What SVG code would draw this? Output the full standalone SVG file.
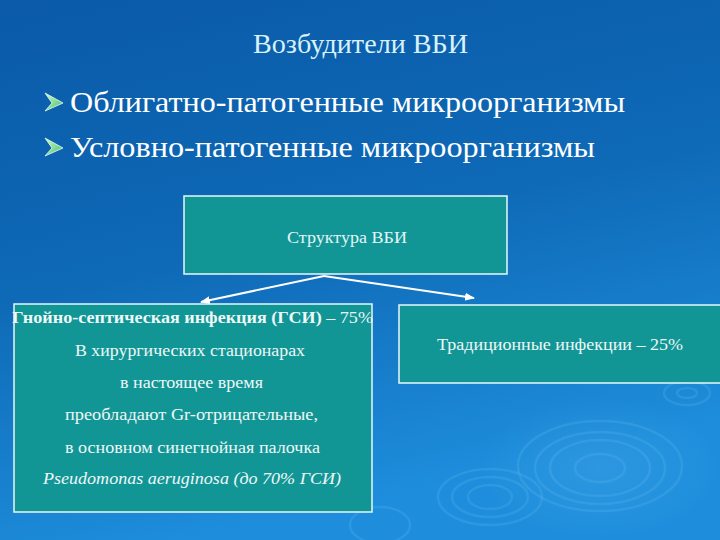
<svg xmlns="http://www.w3.org/2000/svg" width="720" height="540" viewBox="0 0 720 540">
<defs>
<linearGradient id="bg" x1="0" y1="0" x2="0.3" y2="1">
<stop offset="0" stop-color="#0a5aa8"/>
<stop offset="0.5" stop-color="#0e69b6"/>
<stop offset="1" stop-color="#1e8edc"/>
</linearGradient>
<radialGradient id="rip" cx="0.5" cy="0.5" r="0.5">
<stop offset="0" stop-color="#4aaae8" stop-opacity="0.35"/>
<stop offset="1" stop-color="#4aaae8" stop-opacity="0"/>
</radialGradient>
<linearGradient id="bul" x1="0" y1="0" x2="1" y2="1">
<stop offset="0" stop-color="#d8f8c0"/>
<stop offset="1" stop-color="#3cc070"/>
</linearGradient>
<marker id="ah" markerWidth="10" markerHeight="8" refX="9" refY="4" orient="auto" markerUnits="userSpaceOnUse">
<path d="M0,0 L10,4 L0,8 Z" fill="#ffffff"/>
</marker>
<style>
.box{fill:#129595;stroke:#e8f8f8;stroke-width:1.5}
.conn{stroke:#ffffff;stroke-width:2;fill:none;marker-end:url(#ah)}
.r{fill:none;stroke:#5cb8f0;stroke-opacity:0.25;stroke-width:2.5}
.bl{fill:url(#bul);stroke:#e0fff0;stroke-width:0.8}
</style>
</defs>
<rect width="720" height="540" fill="url(#bg)"/>
<g id="ripples">
<ellipse cx="600" cy="468" rx="120" ry="70" fill="url(#rip)"/>
<ellipse class="r" cx="600" cy="468" rx="25" ry="14"/>
<ellipse class="r" cx="600" cy="468" rx="50" ry="28"/>
<ellipse class="r" cx="600" cy="468" rx="65" ry="36"/>
<ellipse class="r" cx="600" cy="466" rx="82" ry="45"/>
<ellipse class="r" cx="490" cy="497" rx="22" ry="12"/>
<ellipse class="r" cx="490" cy="497" rx="38" ry="20"/>
<ellipse class="r" cx="490" cy="497" rx="52" ry="28"/>
<ellipse class="r" cx="687" cy="393" rx="10" ry="5"/>
<ellipse class="r" cx="687" cy="393" rx="23" ry="12"/>
<ellipse class="r" cx="380" cy="525" rx="30" ry="18"/>
</g>
<g font-family="Liberation Serif, Times New Roman, serif">
<g id="title">
<text x="253" y="53" font-size="28" fill="#d8f2fa" textLength="215" lengthAdjust="spacingAndGlyphs">Возбудители ВБИ</text>
</g>
<g id="bullets" fill="#ffffff" font-size="30">
<path class="bl" d="M45,93 L63,103 L45,111 L52,103 Z"/>
<text x="70" y="112" textLength="555" lengthAdjust="spacingAndGlyphs">Облигатно-патогенные микроорганизмы</text>
<path class="bl" d="M45,138 L63,148 L45,156 L52,148 Z"/>
<text x="70" y="157" textLength="525" lengthAdjust="spacingAndGlyphs">Условно-патогенные микроорганизмы</text>
</g>
<g id="connectors">
<path class="conn" d="M324,276 L201,302"/>
<path class="conn" d="M324,276 L474,298"/>
</g>
<g id="structure">
<rect class="box" x="184" y="196" width="323" height="78"/>
<text x="287" y="243" font-size="16" fill="#e4f6f6" textLength="120" lengthAdjust="spacingAndGlyphs">Структура ВБИ</text>
</g>
<g id="gsi" fill="#eef8f8" font-size="16">
<rect class="box" x="14" y="304" width="358" height="208"/>
<text x="12" y="323" textLength="361" lengthAdjust="spacingAndGlyphs"><tspan font-weight="bold">Гнойно-септическая инфекция (ГСИ)</tspan> – 75%</text>
<text x="75" y="356" textLength="230" lengthAdjust="spacingAndGlyphs">В хирургических стационарах</text>
<text x="120" y="388" textLength="143" lengthAdjust="spacingAndGlyphs">в настоящее время</text>
<text x="65" y="420" textLength="253" lengthAdjust="spacingAndGlyphs">преобладают Gr-отрицательные,</text>
<text x="65" y="453" textLength="255" lengthAdjust="spacingAndGlyphs">в основном синегнойная палочка</text>
<text x="43" y="484" font-style="italic" textLength="298" lengthAdjust="spacingAndGlyphs">Pseudomonas aeruginosa (до 70% ГСИ)</text>
</g>
<g id="traditional">
<rect class="box" x="399" y="305" width="323" height="78"/>
<text x="437" y="350" font-size="16" fill="#eef8f8" textLength="246" lengthAdjust="spacingAndGlyphs">Традиционные инфекции – 25%</text>
</g>
</g>
</svg>
